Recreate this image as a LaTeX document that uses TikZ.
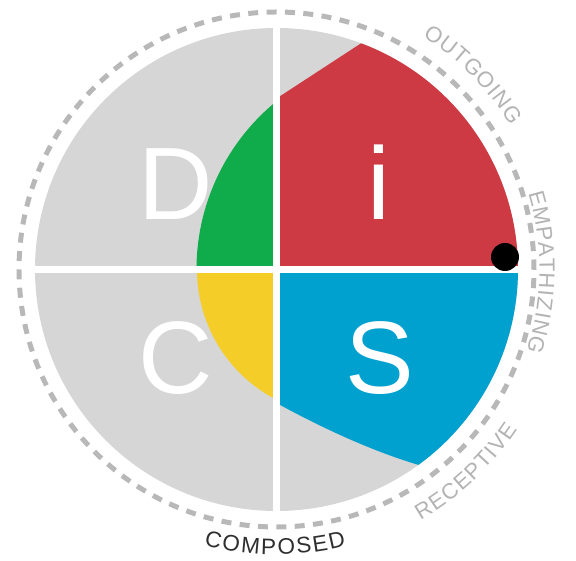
\documentclass[tikz,border=0pt]{standalone}
\usepackage{fontspec}
\newfontfamily\lblfamily{Liberation Sans}
\newcommand\lblf{\lblfamily\fontsize{22}{26}\selectfont}
\newcommand\compf{\lblfamily\fontsize{22.5}{27}\selectfont}
\newcommand\bigf{\lblfamily\fontsize{103}{110}\selectfont}
\definecolor{discgray}{HTML}{D6D6D6}
\definecolor{discred}{HTML}{CD3A43}
\definecolor{discgreen}{HTML}{10AC4B}
\definecolor{discyellow}{HTML}{F4CD28}
\definecolor{discblue}{HTML}{00A1CF}
\definecolor{dashgray}{HTML}{B8B8B8}
\definecolor{lblgray}{HTML}{B3B3B3}
\definecolor{lbldark}{HTML}{2E2E2E}
\newlength\arcw
\newlength\arccum
\newlength\arctmp
\newlength\arcsp
% #1 prefix, #2 radius, #3 centre angle, #4 direction (1 ccw, -1 cw), #5 font, #6 spacing, #7 letters
\newcommand\preparearc[7]{%
  \global\arcsp=#6pt\relax
  \global\arcw=0pt\relax
  \foreach \ch in {#7}{\settowidth{\arctmp}{#5\ch}\global\advance\arcw by \arctmp\relax\global\advance\arcw by \arcsp\relax}%
  \global\advance\arcw by -\arcsp\relax
  \global\arccum=0pt\relax
  \foreach \ch [count=\k] in {#7}{%
    \settowidth{\arctmp}{#5\ch}%
    \pgfmathsetmacro\ang{#3 - (#4)*(\the\arcw/2)/(#2)*57.29578 + (#4)*(\the\arccum + \the\arctmp/2)/(#2)*57.29578}%
    \expandafter\xdef\csname arcang#1\k\endcsname{\ang}%
    \global\advance\arccum by \arctmp\relax
    \global\advance\arccum by \arcsp\relax
  }%
}
% #1 prefix, #2 radius, #3 direction, #4 font, #5 colour, #6 letters
\newcommand\drawarc[6]{%
  \foreach \ch [count=\k] in {#6}{%
    \pgfmathsetmacro\ang{\csname arcang#1\k\endcsname}%
    \pgfmathsetmacro\rot{\ang + (#3)*90}%
    \node[arcletter, text=#5, font=#4, rotate=\rot] (#1\k) at (\ang:#2) {\ch};%
  }%
}
\tikzset{
  arcletter/.style={anchor=base, inner sep=0pt},
  bigletter/.style={anchor=base, inner sep=0pt, text=white, font=\bigf},
  crossline/.style={draw=white, line width=6.7pt},
  dashring/.style={draw=dashgray, line width=5pt, dash pattern=on 10pt off 8.385pt},
}
\begin{document}%
\preparearc{out}{275}{44.7}{-1}{\lblf}{1}{O,U,T,G,O,I,N,G}%
\preparearc{emp}{263}{-0.6}{-1}{\lblf}{1}{E,M,P,A,T,H,I,Z,I,N,G}%
\preparearc{rec}{289}{-46.8}{1}{\lblf}{1.2}{R,E,C,E,P,T,I,V,E}%
\preparearc{com}{285}{-90.3}{1}{\compf}{1.8}{C,O,M,P,O,S,E,D}%
\begin{tikzpicture}[x=1pt,y=1pt]
\useasboundingbox (-276.5,-291.5) rectangle (299.5,269.5);
% grey disc
\fill[discgray] (0,0) circle[radius=241.5];
% coloured quadrants
\fill[discred] (0,0) -- (241.5,0) arc[start angle=0, end angle=69.5, radius=241.5] -- (0,171) -- cycle;
\fill[discgreen] (0,0) -- (-80,0) arc[start angle=180, end angle=129.15, radius=217] -- cycle;
\fill[discyellow] (0,0) -- (-79.5,0) arc[start angle=180, end angle=242.8, radius=146.5] -- cycle;
\fill[discblue] (0,0) -- (0,-133.5) .. controls (50,-161) and (100,-183) .. (-54:241.5)
  arc[start angle=-54, end angle=0, radius=241.5] -- cycle;
% white cross
\draw[crossline] (0,-244) -- (0,244);
\draw[crossline] (-244,0) -- (244,0);
% dot
\fill[black] (228.5,12.5) circle[radius=14];
% letters
\node[bigletter] (D) at (-101,49.5) {D};
\node[bigletter] (I) at (102.5,49.5) {i};
\node[bigletter] (S) at (103.2,-124.5) {S};
\node[bigletter] (C) at (-101.2,-124.5) {C};
% dashed ring
\draw[dashring] (0,0) circle[radius=257.5];
% labels
\drawarc{out}{275}{-1}{\lblf}{lblgray}{O,U,T,G,O,I,N,G}
\drawarc{emp}{263}{-1}{\lblf}{lblgray}{E,M,P,A,T,H,I,Z,I,N,G}
\drawarc{rec}{289}{1}{\lblf}{lblgray}{R,E,C,E,P,T,I,V,E}
\drawarc{com}{285}{1}{\compf}{lbldark}{C,O,M,P,O,S,E,D}
\end{tikzpicture}
\end{document}
